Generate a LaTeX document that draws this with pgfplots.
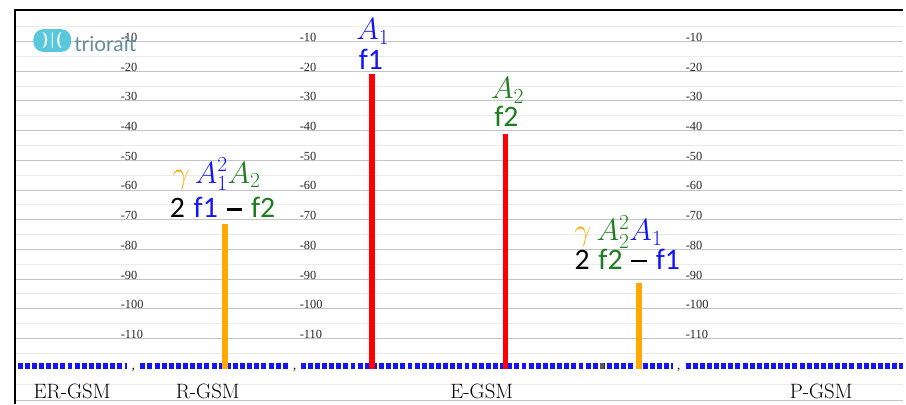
\RequirePackage{fix-cm}
\documentclass[border=0pt]{standalone}
\usepackage{pgfplots}
\pgfplotsset{compat=1.18}
\usepackage{fontspec}
\newfontfamily\tickfont{Liberation Serif}
\newfontfamily\calib{Carlito}
\newfontfamily\logofont{Lato}
\definecolor{myred}{RGB}{255,0,0}
\definecolor{myorange}{RGB}{255,170,0}
\definecolor{myblue}{RGB}{20,20,255}
\definecolor{mygreen}{RGB}{30,125,30}
\definecolor{majgrid}{RGB}{196,196,196}
\definecolor{mingrid}{RGB}{236,236,236}
\definecolor{logocyan}{RGB}{90,200,220}
\definecolor{logotext}{RGB}{100,140,155}
\newcommand{\annsize}{\fontsize{31bp}{33bp}\selectfont}
\newcommand{\txtsize}{\fontsize{30bp}{32bp}\selectfont}
\newcommand{\gapsp}{\hspace{0.3em}}
\newcommand{\mdash}{\rule[0.235em]{0.52em}{0.08em}}
\begin{document}
\begin{tikzpicture}
\begin{axis}[
  scale only axis, width=906bp, height=408bp,
  xmin=0, xmax=906, ymin=-132, ymax=4,
  axis line style={draw=none},
  xtick=\empty,
  ytick={-110,-100,...,-10}, yticklabels={},
  minor ytick={-115,-105,...,-5},
  major tick length=0pt, minor tick length=0pt,
  ymajorgrids, yminorgrids,
  major grid style={majgrid, line width=0.9bp},
  minor grid style={mingrid, line width=0.9bp},
  extra y ticks={-131}, extra y tick labels={},
  extra y tick style={grid=major},
  clip=false,
]
% extra light line below the floor
\addplot[mingrid, line width=0.9bp, forget plot] coordinates {(8,-125.5) (906,-125.5)};
% white margin left of the frame
\fill[white] (axis cs:0,-132) rectangle (axis cs:7.5,4);
% frame
\draw[black, line width=2bp] (axis cs:8,-132) -- (axis cs:8,0.67) -- (axis cs:906,0.67);

% noise floor (blue dotted)
\addplot[myblue, line width=5.5bp, dash pattern=on 5bp off 2.2bp, forget plot] coordinates {(11,-119.3) (122,-119.3)};
\addplot[myblue, line width=5.5bp, dash pattern=on 5bp off 2.2bp, forget plot] coordinates {(135,-119.3) (286,-119.3)};
\addplot[myblue, line width=5.5bp, dash pattern=on 5bp off 2.2bp, forget plot] coordinates {(297,-119.3) (673,-119.3)};
\addplot[myblue, line width=5.5bp, dash pattern=on 5bp off 2.2bp, forget plot] coordinates {(686,-119.3) (906,-119.3)};
\addplot[black!65, line width=5.5bp, forget plot] coordinates {(599,-119.3) (604,-119.3)};

% tones and intermodulation products
\addplot[myorange, line width=6bp, forget plot] coordinates {(221,-120.3) (221,-71.3)};
\addplot[myred, line width=6bp, forget plot] coordinates {(369,-120.3) (369,-21)};
\addplot[myred, line width=6bp, forget plot] coordinates {(504,-120.3) (504,-41)};
\addplot[myorange, line width=6bp, forget plot] coordinates {(639,-120.3) (639,-91.3)};

% tick label columns
\pgfplotsinvokeforeach{10,20,...,110}{
  \node[anchor=base west, inner sep=0pt, font=\tickfont\fontsize{12.5bp}{13bp}\selectfont, text=black!85] at (axis cs:115,-#1) {-#1};
  \node[anchor=base west, inner sep=0pt, font=\tickfont\fontsize{12.5bp}{13bp}\selectfont, text=black!85] at (axis cs:296,-#1) {-#1};
  \node[anchor=base west, inner sep=0pt, font=\tickfont\fontsize{12.5bp}{13bp}\selectfont, text=black!85] at (axis cs:686,-#1) {-#1};
}
% separators
\node[anchor=base, inner sep=0pt, font=\tickfont\fontsize{13bp}{13bp}\selectfont] at (axis cs:128,-120.5) {,};
\node[anchor=base, inner sep=0pt, font=\tickfont\fontsize{13bp}{13bp}\selectfont] at (axis cs:291,-120.5) {,};
\node[anchor=base, inner sep=0pt, font=\tickfont\fontsize{13bp}{13bp}\selectfont] at (axis cs:679,-120.5) {,};

% band names
\node[anchor=base, inner sep=0pt, font=\fontsize{21bp}{22bp}\selectfont] at (axis cs:66,-130.3) {ER-GSM};
\node[anchor=base, inner sep=0pt, font=\fontsize{21bp}{22bp}\selectfont] at (axis cs:203,-130.3) {R-GSM};
\node[anchor=base, inner sep=0pt, font=\fontsize{21bp}{22bp}\selectfont] at (axis cs:480,-130.3) {E-GSM};
\node[anchor=base, inner sep=0pt, font=\fontsize{21bp}{22bp}\selectfont] at (axis cs:823,-130.3) {P-GSM};

% annotations
\node[anchor=base, inner sep=0pt, font=\annsize] at (axis cs:370,-9.33) {$\color{myblue}A_1$};
\node[anchor=base, inner sep=0pt, font=\calib\txtsize, text=myblue] at (axis cs:368,-19.33) {f1};
\node[anchor=base, inner sep=0pt, font=\annsize] at (axis cs:506,-29.33) {$\color{mygreen}A_2$};
\node[anchor=base, inner sep=0pt, font=\calib\txtsize, text=mygreen] at (axis cs:505,-38.67) {f2};

\node[anchor=base, inner sep=0pt, font=\annsize] at (axis cs:212,-57.67) {$\color{myorange}\gamma\,\color{myblue}A_1^2\color{mygreen}A_2$};
\node[anchor=base, inner sep=0pt, font=\calib\txtsize] at (axis cs:218,-69.33) {2\gapsp\textcolor{myblue}{f1}\gapsp\mdash\gapsp\textcolor{mygreen}{f2}};
\node[anchor=base, inner sep=0pt, font=\annsize] at (axis cs:618,-77) {$\color{myorange}\gamma\,\color{mygreen}A_2^2\color{myblue}A_1$};
\node[anchor=base, inner sep=0pt, font=\calib\txtsize] at (axis cs:627,-86.67) {2\gapsp\textcolor{mygreen}{f2}\gapsp\mdash\gapsp\textcolor{myblue}{f1}};

% logo
\node[fill=logocyan, rounded corners=10bp, minimum width=38bp, minimum height=23bp, inner sep=0pt, font=\sffamily\bfseries\fontsize{16bp}{16bp}\selectfont, text=white] at (axis cs:46,-9.67) {)\kern1bp|\kern1bp(};
\node[anchor=base west, inner sep=0pt, font=\logofont\fontsize{21bp}{22bp}\selectfont, text=logotext] at (axis cs:68,-13.33) {triorait};
\end{axis}
\end{tikzpicture}
\end{document}
